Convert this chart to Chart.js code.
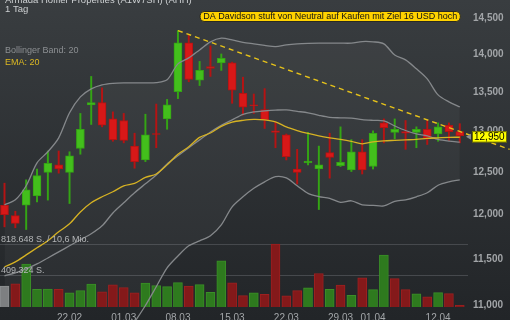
<!DOCTYPE html>
<html><head><meta charset="utf-8">
<script src="https://cdn.jsdelivr.net/npm/chart.js@4.4.0/dist/chart.umd.min.js"></script>
<style>html,body{margin:0;padding:0;overflow:hidden;background:#2c2f32;width:510px;height:320px}canvas{display:block}</style>
</head><body>
<canvas id="c" width="510" height="330"></canvas>
<script>
const dates = ['11.02','12.02','16.02','17.02','18.02','19.02','22.02','23.02','24.02','25.02','26.02',
  '01.03','02.03','03.03','04.03','05.03','08.03','09.03','10.03','11.03','12.03','15.03','16.03','17.03','18.03','19.03',
  '22.03','23.03','24.03','25.03','26.03','29.03','30.03','31.03','01.04','05.04','06.04','07.04','08.04','09.04','12.04','13.04','14.04'];
const opens  = [12.11,11.99,12.11,12.22,12.50,12.59,12.50,12.79,13.34,13.37,13.16,13.14,12.82,12.65,12.975,13.16,13.51,14.16,13.66,13.84,13.89,13.89,13.49,13.34,13.28,13.01,12.96,12.54,12.615,12.54,12.74,12.58,12.53,12.75,12.57,13.11,12.99,13.00,12.99,13.03,12.97,13.08,13.00];
const highs  = [12.37,12.04,12.41,12.54,12.76,12.76,12.75,13.23,13.71,13.56,13.25,13.23,12.98,13.22,13.35,13.41,14.33,14.27,13.91,14.12,14.01,13.90,13.70,13.48,13.55,13.12,12.97,12.78,12.99,12.82,12.98,13.06,12.90,12.90,13.01,13.16,13.16,13.14,13.06,13.14,13.11,13.11,13.10];
const lows   = [11.86,11.85,11.83,12.15,12.17,12.49,12.13,12.72,13.09,13.06,12.88,12.86,12.55,12.63,12.80,13.03,13.42,13.64,13.59,13.71,13.79,13.36,13.21,13.23,13.04,12.80,12.65,12.36,12.59,12.06,12.43,12.57,12.51,12.48,12.54,12.86,12.91,12.78,12.80,12.84,12.88,12.89,12.86];
const closes = [12.00,11.90,12.29,12.46,12.61,12.54,12.70,13.03,13.37,13.08,12.90,12.89,12.63,12.96,12.965,13.34,14.16,13.67,13.79,13.815,13.95,13.53,13.31,13.33,13.15,12.99,12.69,12.50,12.636,12.59,12.68,12.62,12.75,12.53,12.98,13.05,13.03,12.98,13.03,12.92,13.06,13.00,12.95];
const volumes = [274600,305200,566500,234800,236000,233000,185800,216300,301200,199000,291900,256100,185800,314500,282600,269300,322400,274600,295900,195000,610300,318400,149900,185800,168500,830000,145900,216300,252100,441800,234800,287900,155200,384800,229500,686000,375500,229500,172500,132700,189700,176500,22500];
const bbUpper = [12.114,12.173,12.339,12.615,12.750,12.922,13.238,13.442,13.546,13.599,13.619,13.625,13.625,13.625,13.629,13.665,13.877,13.957,14.065,14.175,14.225,14.202,14.168,14.147,14.127,14.110,14.133,14.147,14.154,14.157,14.157,14.157,14.157,14.179,14.175,14.147,13.996,13.930,13.811,13.678,13.468,13.378,13.314];
const bbMiddle = [11.314,11.347,11.390,11.444,11.510,11.578,11.646,11.714,11.781,11.872,12.020,12.138,12.256,12.362,12.468,12.602,12.701,12.799,12.897,12.995,13.078,13.148,13.219,13.251,13.263,13.272,13.276,13.257,13.238,13.206,13.180,13.174,13.170,13.151,13.142,13.136,13.072,13.014,12.971,12.946,12.903,12.881,12.869];
const bbLower = [10.514,10.521,10.441,10.273,10.270,10.234,10.054,9.986,10.016,10.145,10.421,10.651,10.820,10.995,11.195,11.401,11.532,11.646,11.702,11.759,11.883,12.091,12.209,12.309,12.386,12.448,12.433,12.339,12.250,12.212,12.191,12.144,12.162,12.114,12.108,12.102,12.155,12.173,12.209,12.256,12.345,12.386,12.409];
const ema20 = [11.412,11.466,11.544,11.623,11.702,11.804,11.895,12.032,12.138,12.209,12.268,12.339,12.368,12.439,12.480,12.590,12.719,12.811,12.928,12.983,13.065,13.119,13.142,13.155,13.148,13.123,13.059,13.014,12.977,12.946,12.922,12.903,12.879,12.848,12.873,12.885,12.891,12.897,12.903,12.916,12.922,12.928,12.930];
const priceTicks = [11, 11.5, 12, 12.5, 13, 13.5, 14, 14.5];
const xTickLabels = ['22.02','01.03','08.03','15.03','22.03','29.03','01.04','12.04'];
const volTicks = [409324, 818648];
const volTickLabels = ['409.324 S.', '818.648 S. / 10,6 Mio.'];
const trendLine = [{x: 16, y: 14.33}, {x: 46.6, y: 12.78}];
const lastPrice = 12.95;
const titleText = 'Armada Hoffler Properties (A1W7SH) (AHH)';
const periodText = '1 Tag';
const bbLabel = 'Bollinger Band: 20';
const emaLabel = 'EMA: 20';
const newsText = 'DA Davidson stuft von Neutral auf Kaufen mit Ziel 16 USD hoch';

const FONT = '"Liberation Sans", Arial, sans-serif';
const idx = dates.map((d, i) => i);
const up = idx.map(i => closes[i] >= opens[i]);
const bodyFill = up.map(u => u ? '#43bf1c' : '#d81818');
const bodyLine = up.map(u => u ? '#34a514' : '#b51313');
const volUp = idx.map(i => i === 0 ? null : closes[i] >= closes[i - 1]);
const volFill = volUp.map(u => u === null ? '#7d7f81' : (u ? '#2e7a1e' : '#84191a'));
const volLine = volUp.map(u => u === null ? '#8e9092' : (u ? '#3a8f27' : '#9c2020'));
const pts = arr => arr.map((v, i) => ({x: i, y: v}));
const noPad = s => { s.paddingLeft = 0; s.paddingRight = 0; s.paddingTop = 0; s.paddingBottom = 0; };

const bgPlugin = {
  id: 'bg',
  beforeDraw(chart) {
    const {ctx, width, height} = chart;
    const g = ctx.createLinearGradient(0, 0, 0, 320);
    g.addColorStop(0, '#393d40');
    g.addColorStop(1, '#222528');
    ctx.save(); ctx.fillStyle = g; ctx.fillRect(0, 0, width, height); ctx.restore();
  },
  afterDatasetsDraw(chart) {
    const ctx = chart.ctx, vs = chart.scales.yVol;
    ctx.save();
    ctx.font = '9px ' + FONT; ctx.fillStyle = '#b3b5b7'; ctx.textAlign = 'left'; ctx.textBaseline = 'middle';
    volTicks.forEach((v, k) => ctx.fillText(volTickLabels[k], 1, vs.getPixelForValue(v) - 5));
    ctx.restore();
  },
  afterDraw(chart) {
    const ctx = chart.ctx, xs = chart.scales.x, ys = chart.scales.y;
    ctx.save();
    ctx.textBaseline = 'alphabetic'; ctx.textAlign = 'left';
    ctx.font = '9.5px ' + FONT; ctx.fillStyle = '#cdd0d2';
    ctx.fillText(titleText, 5, 3);
    ctx.fillText(periodText, 5, 12);
    ctx.font = '9px ' + FONT; ctx.fillStyle = '#8c8f92';
    ctx.fillText(bbLabel, 5, 53);
    ctx.fillStyle = '#dcb822';
    ctx.fillText(emaLabel, 5, 65);
    // news box
    ctx.font = '9px ' + FONT;
    const right = xs.getPixelForValue(dates.length - 1);
    const tw = ctx.measureText(newsText).width;
    const bw = tw + 6, bh = 10, bx = right - bw, by = 11;
    ctx.beginPath(); ctx.roundRect(bx + 0.5, by + 0.5, bw, bh, 4);
    ctx.fillStyle = '#ffd200'; ctx.fill();
    ctx.strokeStyle = '#2a2a22'; ctx.lineWidth = 1; ctx.stroke();
    ctx.fillStyle = '#111'; ctx.textBaseline = 'middle';
    ctx.fillText(newsText, bx + 3.5, by + bh / 2 + 1);
    // last price box
    const py = ys.getPixelForValue(lastPrice) + 1;
    ctx.fillStyle = '#8a8d90';
    ctx.beginPath(); ctx.moveTo(466, py); ctx.lineTo(471, py - 3); ctx.lineTo(471, py + 3); ctx.closePath(); ctx.fill();
    ctx.fillStyle = '#ffff00';
    ctx.fillRect(472, py - 5.5, 35, 11);
    ctx.strokeStyle = '#6b6b00'; ctx.strokeRect(472.5, py - 5, 34, 10.5);
    ctx.fillStyle = '#000'; ctx.font = '10px ' + FONT; ctx.textBaseline = 'middle';
    ctx.fillText(lastPrice.toFixed(3).replace('.', ','), 474, py + 0.5);
    ctx.restore();
  }
};

new Chart(document.getElementById('c'), {
  data: {
    datasets: [
      {type: 'line', data: trendLine, yAxisID: 'y', borderColor: '#e6c21a', borderWidth: 1.4, borderDash: [5, 4], pointRadius: 0, clip: false, order: 0},
      {type: 'line', data: pts(ema20), yAxisID: 'y', borderColor: '#d6b223', borderWidth: 1.3, pointRadius: 0, tension: 0.3, order: 1},
      {type: 'line', data: pts(bbUpper), yAxisID: 'y', borderColor: '#85888b', borderWidth: 1.3, pointRadius: 0, tension: 0.3, order: 2,
        fill: {target: 4}, backgroundColor: 'rgba(255,255,255,0.035)'},
      {type: 'line', data: pts(bbMiddle), yAxisID: 'y', borderColor: '#85888b', borderWidth: 1.3, pointRadius: 0, tension: 0.3, order: 2},
      {type: 'line', data: pts(bbLower), yAxisID: 'y', borderColor: '#85888b', borderWidth: 1.3, pointRadius: 0, tension: 0.3, order: 2, clip: false},
      {type: 'bar', data: idx.map(i => ({x: i, y: [lows[i], highs[i]]})), yAxisID: 'y', barThickness: 1.3, grouped: false,
        backgroundColor: bodyLine, borderWidth: 0, order: 5},
      {type: 'bar', data: idx.map(i => ({x: i, y: [opens[i], closes[i]]})), yAxisID: 'y', barThickness: 8, grouped: false,
        backgroundColor: bodyFill, borderColor: bodyLine, borderWidth: 1, borderSkipped: false, order: 4},
      {type: 'bar', data: idx.map(i => ({x: i, y: volumes[i]})), yAxisID: 'yVol', barThickness: 9, grouped: false,
        backgroundColor: volFill, borderColor: volLine, borderWidth: 1, borderSkipped: 'bottom', order: 6}
    ]
  },
  options: {
    responsive: false, animation: false, events: [],
    layout: {padding: 0},
    plugins: {legend: {display: false}, tooltip: {enabled: false}, filler: {drawTime: 'beforeDatasetsDraw'}},
    scales: {
      x: {type: 'linear', position: 'bottom', min: -0.415, max: 42.76, bounds: 'data', offset: false,
        grid: {display: false, drawTicks: false}, border: {display: false},
        afterBuildTicks: s => { s.ticks = xTickLabels.map(l => ({value: dates.indexOf(l)})); },
        afterFit: s => { s.height = 23; noPad(s); },
        ticks: {color: '#a3a6a9', font: {size: 10, family: FONT}, padding: 5, maxRotation: 0, autoSkip: false,
          callback: v => dates[v]}},
      y: {type: 'logarithmic', position: 'right', min: 10.9788, max: 14.758, bounds: 'data',
        grid: {display: false, drawTicks: false}, border: {display: false},
        afterBuildTicks: s => { s.ticks = priceTicks.map(v => ({value: v})); },
        afterFit: s => { s.width = 42; noPad(s); },
        ticks: {color: '#a2a5a8', font: {size: 10, weight: 'bold', family: FONT}, padding: 5, autoSkip: false,
          callback: v => v.toFixed(3).replace('.', ',')}},
      yVol: {type: 'linear', position: 'left', min: 0, max: 4053600, bounds: 'data',
        grid: {display: true, color: '#46494d', lineWidth: 1, drawTicks: false}, border: {display: false},
        afterBuildTicks: s => { s.ticks = volTicks.map(v => ({value: v})); },
        afterFit: s => { s.width = 0; noPad(s); },
        ticks: {display: false}}
    }
  },
  plugins: [bgPlugin]
});
</script>
</body></html>
